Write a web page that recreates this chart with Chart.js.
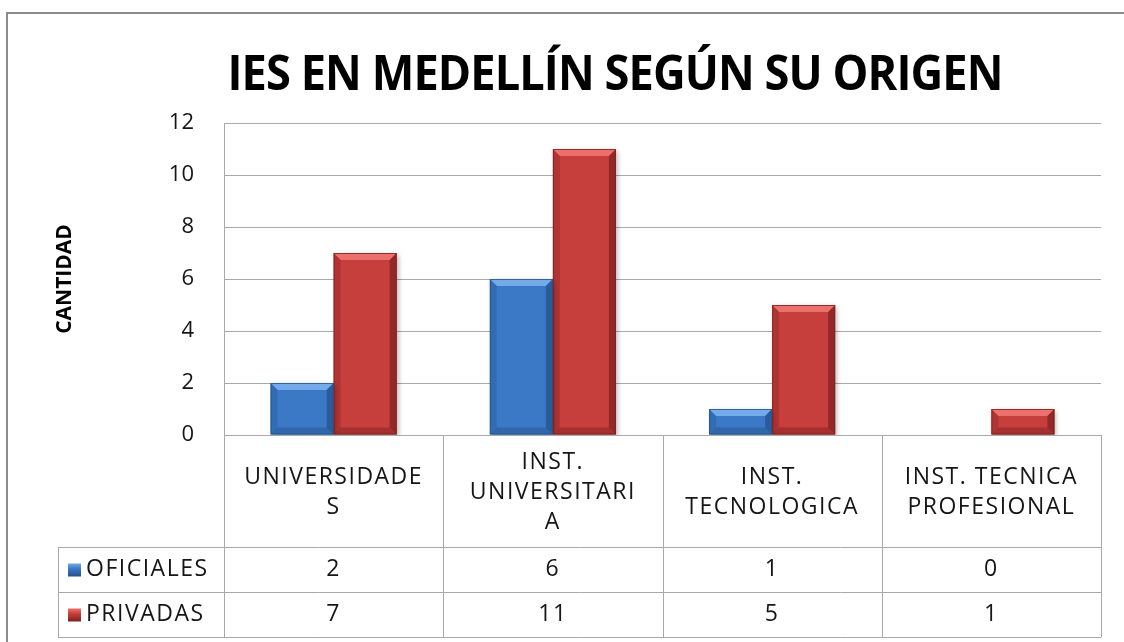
<!DOCTYPE html>
<html>
<head>
<meta charset="utf-8">
<title>IES en Medellín según su origen</title>
<script src="https://cdn.jsdelivr.net/npm/chart.js@4.4.1/dist/chart.umd.min.js"></script>
<style>
  html, body { margin: 0; padding: 0; background: #fff; overflow: hidden; }
  canvas { display: block; }
</style>
</head>
<body>
<canvas id="iesChart" width="1124" height="642"></canvas>
<script>
// Chart data.
const chartTitle = "IES EN MEDELLÍN SEGÚN SU ORIGEN";
const yAxisTitle = "CANTIDAD";
const categories = [
  ["UNIVERSIDADE", "S"],
  ["INST.", "UNIVERSITARI", "A"],
  ["INST.", "TECNOLOGICA"],
  ["INST. TECNICA", "PROFESIONAL"]
];
const seriesNames = ["OFICIALES", "PRIVADAS"];
const oficiales = [2, 6, 1, 0];
const privadas = [7, 11, 5, 1];
const yMin = 0;
const yMax = 12;
const yStep = 2;

// Look of the old Office chart.
const FONT = '"Open Sans", "DejaVu Sans", sans-serif';
const TEXT_COLOR = "#161616";
const LINE_COLOR = "#a9a9a9";
const seriesColors = [
  { face: "#3b79c6", light: "#74a9ea", dark: "#24508a" },
  { face: "#c73f3c", light: "#ec706b", dark: "#7c1f1e" }
];

// Row heights of the data table under the plot.
const headerRowHeight = 112;
const valueRowHeight = 45;
const legendColumnLeft = 58;

// Outer frame and title.
const framePlugin = {
  id: "frame",
  afterDraw(chart) {
    const ctx = chart.ctx;
    ctx.save();
    ctx.strokeStyle = "#8c8c8c";
    ctx.lineWidth = 2;
    ctx.beginPath();
    ctx.moveTo(7, chart.height);
    ctx.lineTo(7, 13);
    ctx.lineTo(chart.width, 13);
    ctx.stroke();

    // title squeezed a little to look like the narrow original face
    ctx.fillStyle = "#000";
    ctx.font = "bold 49px " + FONT;
    ctx.letterSpacing = "-1px";
    ctx.textAlign = "center";
    ctx.textBaseline = "alphabetic";
    const w = ctx.measureText(chartTitle).width;
    const sx = 775 / w;
    ctx.translate(615, 90);
    ctx.scale(sx, 1);
    ctx.fillText(chartTitle, 0, 0);
    ctx.restore();
  }
};

// Soft shadow under the bars.
const shadowPlugin = {
  id: "barShadow",
  beforeDatasetsDraw(chart) {
    const ctx = chart.ctx;
    ctx.save();
    ctx.shadowColor = "rgba(0,0,0,0.3)";
    ctx.shadowBlur = 5;
    ctx.shadowOffsetX = 2;
    ctx.shadowOffsetY = 2;
  },
  afterDatasetsDraw(chart) {
    chart.ctx.restore();
  }
};

// Bevelled edges drawn on top of each bar, using the bar's own geometry.
const bevelPlugin = {
  id: "bevel",
  afterDatasetsDraw(chart) {
    const ctx = chart.ctx;
    chart.data.datasets.forEach((ds, di) => {
      const meta = chart.getDatasetMeta(di);
      const col = seriesColors[di];
      meta.data.forEach(bar => {
        const p = bar.getProps(["x", "y", "base", "width"], true);
        const left = p.x - p.width / 2;
        const right = p.x + p.width / 2;
        const top = p.y;
        const bottom = p.base;
        const h = bottom - top;
        if (h < 1) return;
        const b = Math.min(7, h / 2);
        ctx.save();
        // top bevel
        ctx.fillStyle = col.light;
        ctx.beginPath();
        ctx.moveTo(left, top);
        ctx.lineTo(right, top);
        ctx.lineTo(right - b, top + b);
        ctx.lineTo(left + b, top + b);
        ctx.closePath();
        ctx.fill();
        // left bevel
        ctx.globalAlpha = 0.3;
        ctx.fillStyle = col.dark;
        ctx.beginPath();
        ctx.moveTo(left, top);
        ctx.lineTo(left + b, top + b);
        ctx.lineTo(left + b, bottom - b);
        ctx.lineTo(left, bottom);
        ctx.closePath();
        ctx.fill();
        // right bevel
        ctx.globalAlpha = 0.7;
        ctx.beginPath();
        ctx.moveTo(right, top);
        ctx.lineTo(right - b, top + b);
        ctx.lineTo(right - b, bottom - b);
        ctx.lineTo(right, bottom);
        ctx.closePath();
        ctx.fill();
        // bottom bevel
        ctx.globalAlpha = 0.45;
        ctx.beginPath();
        ctx.moveTo(left, bottom);
        ctx.lineTo(left + b, bottom - b);
        ctx.lineTo(right - b, bottom - b);
        ctx.lineTo(right, bottom);
        ctx.closePath();
        ctx.fill();
        // outline
        ctx.globalAlpha = 0.8;
        ctx.strokeStyle = col.dark;
        ctx.lineWidth = 1;
        ctx.strokeRect(left + 0.5, top + 0.5, p.width - 1, h - 1);
        ctx.restore();
      });
    });
  }
};

// Data table under the plot, aligned with the x scale.
const dataTablePlugin = {
  id: "dataTable",
  afterDraw(chart) {
    const ctx = chart.ctx;
    const xScale = chart.scales.x;
    const area = chart.chartArea;
    const n = chart.data.labels.length;
    const half = (xScale.getPixelForValue(1) - xScale.getPixelForValue(0)) / 2;
    const edges = [];
    for (let i = 0; i < n; i++) edges.push(xScale.getPixelForValue(i) - half);
    edges.push(xScale.getPixelForValue(n - 1) + half);

    const headTop = area.bottom;
    const headBottom = headTop + headerRowHeight;
    const rowTops = chart.data.datasets.map((_, i) => headBottom + i * valueRowHeight);
    const tableBottom = headBottom + chart.data.datasets.length * valueRowHeight;
    const crisp = v => Math.round(v) + 0.5;

    ctx.save();
    ctx.strokeStyle = LINE_COLOR;
    ctx.lineWidth = 1;
    ctx.beginPath();
    edges.forEach(x => {
      ctx.moveTo(crisp(x), headTop);
      ctx.lineTo(crisp(x), tableBottom);
    });
    ctx.moveTo(crisp(legendColumnLeft), headBottom);
    ctx.lineTo(crisp(legendColumnLeft), tableBottom);
    [headBottom, ...rowTops.slice(1), tableBottom].forEach(y => {
      ctx.moveTo(legendColumnLeft, crisp(y));
      ctx.lineTo(edges[n], crisp(y));
    });
    ctx.stroke();

    ctx.fillStyle = TEXT_COLOR;
    ctx.font = "23px " + FONT;
    ctx.letterSpacing = "1.5px";
    ctx.textAlign = "center";
    ctx.textBaseline = "middle";

    // category labels
    const headMid = (headTop + headBottom) / 2 + 1;
    chart.data.labels.forEach((lines, i) => {
      const cx = (edges[i] + edges[i + 1]) / 2;
      lines.forEach((line, li) => {
        ctx.fillText(line, cx, headMid + (li - (lines.length - 1) / 2) * 30);
      });
    });

    // values and series keys
    chart.data.datasets.forEach((ds, di) => {
      const cy = rowTops[di] + valueRowHeight / 2;
      ds.data.forEach((v, i) => {
        ctx.fillText(String(v), (edges[i] + edges[i + 1]) / 2, cy);
      });
      const col = seriesColors[di];
      const g = ctx.createLinearGradient(0, cy - 6, 0, cy + 7);
      g.addColorStop(0, col.light);
      g.addColorStop(0.4, col.face);
      g.addColorStop(1, col.dark);
      ctx.fillStyle = g;
      ctx.fillRect(68, cy - 6, 13, 13);
      ctx.fillStyle = TEXT_COLOR;
      ctx.textAlign = "left";
      ctx.fillText(ds.label, 86, cy);
      ctx.textAlign = "center";
    });
    ctx.restore();
  }
};

const ctx = document.getElementById("iesChart").getContext("2d");
new Chart(ctx, {
  type: "bar",
  data: {
    labels: categories,
    datasets: [
      { label: seriesNames[0], data: oficiales, backgroundColor: seriesColors[0].face, borderWidth: 0 },
      { label: seriesNames[1], data: privadas, backgroundColor: seriesColors[1].face, borderWidth: 0 }
    ]
  },
  options: {
    responsive: false,
    animation: false,
    devicePixelRatio: 1,
    categoryPercentage: 0.575,
    barPercentage: 1,
    layout: {
      padding: { left: 0, right: 23, top: 123, bottom: 207 }
    },
    plugins: {
      legend: { display: false },
      title: { display: false },
      tooltip: { enabled: false }
    },
    scales: {
      x: {
        display: false
      },
      y: {
        min: yMin,
        max: yMax,
        afterFit(scale) { scale.width = 224; },
        ticks: {
          stepSize: yStep,
          padding: 30,
          color: TEXT_COLOR,
          font: { family: FONT, size: 22 }
        },
        grid: { color: LINE_COLOR, drawTicks: false },
        border: { display: true, color: LINE_COLOR },
        title: {
          display: true,
          text: yAxisTitle,
          color: "#000",
          font: { family: FONT, size: 21, weight: "bold" },
          padding: { top: 52, bottom: 0 }
        }
      }
    }
  },
  plugins: [shadowPlugin, bevelPlugin, dataTablePlugin, framePlugin]
});
</script>
</body>
</html>
